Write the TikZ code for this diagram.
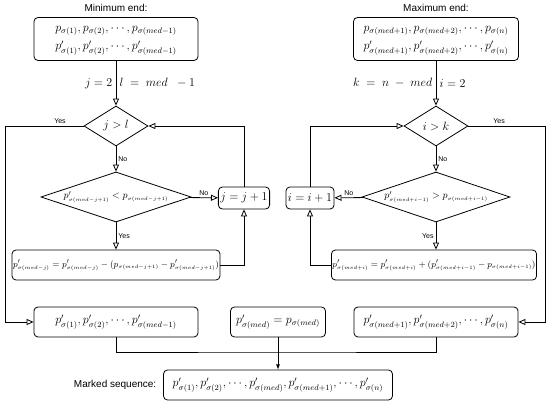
\documentclass[tikz,border=0pt]{standalone}
\usepackage{fontspec}
\setmainfont{Liberation Serif}
\setsansfont{Liberation Sans}
\usetikzlibrary{shapes.geometric,arrows.meta}
\newcommand{\pv}[1]{p_{\sigma(#1)}}
\newcommand{\pw}[1]{p'_{\sigma(#1)}}
\newcommand{\pvs}[1]{p_{\scriptscriptstyle\sigma(#1)}}
\newcommand{\pws}[1]{p'_{\scriptscriptstyle\sigma(#1)}}

\begin{document}
\begin{tikzpicture}[x=1pt, y=-1pt, line width=0.8pt, >={Triangle[open,length=7pt,width=6pt]}]
    \tikzstyle{box}=[draw, rounded corners=4pt, inner sep=2pt, font=\fontsize{12}{14}\selectfont]
    \tikzstyle{dec}=[draw, diamond, inner sep=0pt, font=\fontsize{10}{12}\selectfont]
    \tikzstyle{lab}=[font=\sffamily\fontsize{7}{8}\selectfont, inner sep=2pt]
    \tikzstyle{head}=[font=\sffamily\fontsize{10}{12}\selectfont]
    \tikzstyle{cnt}=[font=\fontsize{12}{14}\selectfont]
    \tikzstyle{small}=[font=\fontsize{9.3}{11}\selectfont, inner sep=1pt]
    \useasboundingbox (0,0) rectangle (550,406);
    % minimum end
    \node[head] (minT) at (116,8) {Minimum end:};
    \node[box, minimum width=164, minimum height=43] (inL) at (116,39) {};
    \node[cnt] (inL1) at (116,31) {$\pv{1}, \pv{2}, \cdots, \pv{med-1}$};
    \node[cnt] (inL2) at (116,48) {$\pw{1}, \pw{2}, \cdots, \pw{med-1}$};
    \node[dec, minimum width=64, minimum height=40, aspect=1.6, cnt] (dL) at (116,126) {$j>l$};
    \node[dec, minimum width=150, minimum height=50, aspect=3] (cL) at (116,197) {$\pws{med-j+1} < \pvs{med-j+1}$};
    \node[box, minimum width=46, minimum height=22] (incL) at (244,198) {$j=j+1$};
    \node[box, small, minimum width=203, minimum height=30] (updL) at (116,265)
      {$\pws{med-j} = \pws{med-j} - (\pvs{med-j+1} - \pws{med-j+1})$};
    % maximum end
    \node[head] (maxT) at (436,8) {Maximum end:};
    \node[box, minimum width=165, minimum height=43] (inR) at (436,39) {};
    \node[cnt] (inR1) at (436,31) {$\pv{med+1}, \pv{med+2}, \cdots, \pv{n}$};
    \node[cnt] (inR2) at (436,48) {$\pw{med+1}, \pw{med+2}, \cdots, \pw{n}$};
    \node[dec, minimum width=64, minimum height=40, aspect=1.6, cnt] (dR) at (436,126) {$i>k$};
    \node[dec, minimum width=148, minimum height=50, aspect=3] (cR) at (436,197) {$\pws{med+i-1} > \pvs{med+i-1}$};
    \node[box, minimum width=47, minimum height=22] (incR) at (310,198) {$i=i+1$};
    \node[box, small, minimum width=194, minimum height=30] (updR) at (434,265)
      {$\pws{med+i} = \pws{med+i} + (\pws{med+i-1} - \pvs{med+i-1})$};
    % results
    \node[box, minimum width=164, minimum height=30] (outL) at (116,322) {$\pw{1}, \pw{2}, \cdots, \pw{med-1}$};
    \node[box, minimum width=95, minimum height=30] (mid) at (278,322) {$\pw{med} = \pv{med}$};
    \node[box, minimum width=164, minimum height=30] (outR) at (436,322) {$\pw{med+1}, \pw{med+2}, \cdots, \pw{n}$};
    \node[box, minimum width=229, minimum height=30] (fin) at (278,385)
      {$\pw{1}, \pw{2}, \cdots, \pw{med}, \pw{med+1}, \cdots, \pw{n}$};
    \node[head, anchor=east] (mark) at (160,385) {Marked sequence:};
    \coordinate (yesL) at (5,126);
    \coordinate (yesR) at (545,126);
    \coordinate (join) at (278,352);
    % left loop
    \draw[->] (inL) -- node[cnt, left] {$j=2$} node[cnt, right] {$l\;=\;med\;\;-1$} (dL);
    \draw[->] (dL) -- node[lab, above, pos=0.3] {Yes} (yesL) |- (outL);
    \draw[->] (dL) -- node[lab, right] {No} (cL);
    \draw[->] (cL) -- node[lab, above] {No} (incL);
    \draw[->] (cL) -- node[lab, right] {Yes} (cL |- updL.north);
    \draw[->] (updL) -| (incL);
    \draw[->] (incL) |- (dL);
    % right loop
    \draw[->] (inR) -- node[cnt, left] {$k\;=\;n\;-\;med$} node[cnt, right] {$i=2$} (dR);
    \draw[->] (dR) -- node[lab, above, pos=0.4] {Yes} (yesR) |- (outR);
    \draw[->] (dR) -- node[lab, right] {No} (cR);
    \draw[->] (cR) -- node[lab, above] {No} (incR);
    \draw[->] (cR) -- node[lab, left] {Yes} (cR |- updR.north);
    \draw[->] (updR) -| (incR);
    \draw[->] (incR) |- (dR);
    % merge
    \draw (outL) |- (join) -| (outR);
    \draw[-latex] (mid) -- (fin);
\end{tikzpicture}
\end{document}
